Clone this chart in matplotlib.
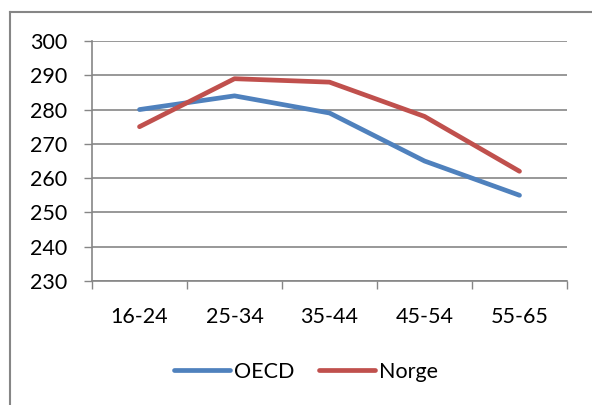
import matplotlib.pyplot as plt
from matplotlib.lines import Line2D

aldersgrupper = ["16-24", "25-34", "35-44", "45-54", "55-65"]
oecd = [280, 284, 279, 265, 255]
norge = [275, 289, 288, 278, 262]
y_ticks = [230, 240, 250, 260, 270, 280, 290, 300]

plt.rcParams['font.family'] = ['Lato', 'DejaVu Sans']
plt.rcParams['font.size'] = 15.5

fig = plt.figure(figsize=(5.92, 4.05), dpi=100)
ax = fig.add_axes([92 / 592, 1 - 281 / 405, 475 / 592, 240 / 405])

x = list(range(len(aldersgrupper)))
ax.plot(x, oecd, color='#4F81BD', lw=3.4, solid_capstyle='round', label='OECD', zorder=3)
ax.plot(x, norge, color='#C0504D', lw=3.4, solid_capstyle='round', label='Norge', zorder=3)

grå = '#868686'
ax.set_ylim(230, 300)
ax.set_yticks(y_ticks)
ax.set_xlim(-0.5, len(aldersgrupper) - 0.5)
ax.set_xticks(x)
ax.set_xticklabels(aldersgrupper)
ax.set_xticks([i - 0.5 for i in range(len(aldersgrupper) + 1)], minor=True)

ax.grid(axis='y', color=grå, lw=1.2, zorder=0)
ax.tick_params(axis='y', length=6, width=1, color=grå, pad=12)
ax.tick_params(axis='x', which='major', length=0, pad=19)
ax.tick_params(axis='x', which='minor', length=6, width=1, color=grå)
for side in ['top', 'right']:
    ax.spines[side].set_visible(False)
for side in ['left', 'bottom']:
    ax.spines[side].set_color(grå)
    ax.spines[side].set_linewidth(1.2)

fig.legend(loc='center', bbox_to_anchor=(306 / 592, 1 - 372 / 405), ncol=2,
           frameon=False, handlelength=2.6, handletextpad=0.2, columnspacing=1.1)

# ramme rundt diagrammet
fx = 9.5 / 592
fy = 1 - 11.5 / 405
fig.add_artist(Line2D([fx, fx], [0, fy], color=grå, lw=1.5))
fig.add_artist(Line2D([fx, 1], [fy, fy], color=grå, lw=1.5))

fig.savefig("out.png", dpi=100)
